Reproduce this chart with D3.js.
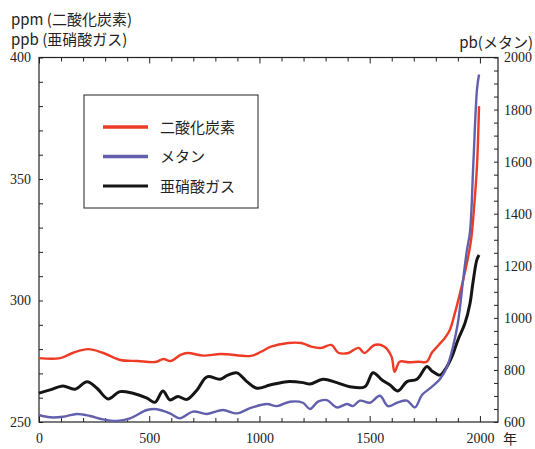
<!DOCTYPE html>
<html>
<head>
<meta charset="utf-8">
<script src="https://cdn.jsdelivr.net/npm/d3@7"></script>
<style>
  body { margin: 0; background: #fff; }
  svg text { fill: #222; }
</style>
</head>
<body>
<div id="chart"></div>
<script>
// data
const co2Years = [0, 96, 155, 223, 292, 369, 446, 528, 565, 597, 642, 674, 747, 825, 961, 1007, 1052, 1130, 1189, 1235, 1280, 1326, 1358, 1403, 1449, 1476, 1522, 1567, 1599, 1613, 1636, 1677, 1722, 1759, 1781, 1813, 1841, 1864, 1887, 1915, 1940, 1960, 1975, 1987, 1996];
const co2Values = [276.3, 276.3, 278.5, 280.0, 278.4, 275.5, 275.1, 274.7, 275.9, 275.1, 277.6, 278.4, 277.3, 278.0, 277.2, 278.9, 281.0, 282.5, 282.5, 281.0, 280.5, 281.7, 278.5, 278.4, 280.5, 278.4, 281.7, 281.0, 276.9, 270.7, 274.8, 274.6, 274.8, 274.8, 278.4, 281.7, 284.6, 288, 295, 305, 315, 325, 340, 356, 380];

const ch4Years = [0, 50, 109, 172, 231, 290, 354, 413, 490, 535, 594, 639, 698, 762, 834, 898, 957, 1034, 1079, 1138, 1197, 1229, 1265, 1306, 1351, 1397, 1424, 1456, 1501, 1546, 1583, 1624, 1669, 1705, 1737, 1773, 1819, 1850, 1878, 1900, 1923, 1941, 1955, 1970, 1987, 1996];
const ch4Values = [627, 618, 620, 631, 623, 610, 604, 614, 646, 649, 633, 614, 640, 631, 646, 633, 653, 669, 661, 678, 674, 650, 678, 684, 656, 669, 661, 682, 674, 701, 661, 674, 682, 656, 704, 729, 765, 810, 890, 980, 1140, 1260, 1330, 1590, 1880, 1935];

const n2oYears = [0, 50, 109, 163, 218, 263, 313, 367, 426, 490, 526, 562, 594, 630, 671, 717, 762, 821, 857, 898, 943, 989, 1048, 1125, 1197, 1229, 1288, 1351, 1410, 1478, 1515, 1556, 1592, 1628, 1669, 1714, 1760, 1782, 1819, 1841, 1873, 1900, 1932, 1955, 1968, 1986, 1996];
const n2oValues = [261.9, 263.2, 264.8, 263.5, 266.6, 263.9, 259.5, 262.5, 261.8, 259.8, 258.1, 262.8, 259.1, 260.5, 259.3, 263.2, 268.6, 267.6, 269.3, 270.2, 266.6, 263.9, 265.2, 266.6, 266.2, 265.6, 267.6, 266.2, 264.5, 264.5, 270.3, 267.3, 265.2, 262.8, 266.6, 267.6, 272.8, 271, 269.3, 271.4, 276.9, 283.7, 290.6, 298.8, 307.1, 316.7, 318.7];

const seriesNames = ["二酸化炭素", "メタン", "亜硝酸ガス"];
const seriesColors = ["#ee3b26", "#6260ad", "#151515"];

const yearTicks = [0, 500, 1000, 1500, 2000];
const leftTicks = [250, 300, 350, 400];
const rightTicks = [600, 800, 1000, 1200, 1400, 1600, 1800, 2000];

const margin = { top: 57.5, right: 37, bottom: 27, left: 39 },
    width = 535 - margin.left - margin.right,
    height = 449 - margin.top - margin.bottom;

const svg = d3.select("#chart")
  .append("svg")
    .attr("width", 535)
    .attr("height", 449)
  .append("g")
    .attr("transform", `translate(${margin.left},${margin.top})`);

const x = d3.scaleLinear().domain([0, 2082]).range([0, width]);
const yL = d3.scaleLinear().domain([250, 400]).range([height, 0]);
const yR = d3.scaleLinear().domain([600, 2000]).range([height, 0]);

const numFont = "Liberation Serif, Times New Roman, DejaVu Serif, serif";
const jpFont = "Noto Sans CJK JP, Noto Sans, sans-serif";

// minor ticks (inward)
function minorAxis(axis, vals, size) {
  return axis.tickValues(vals).tickSize(-size).tickFormat("");
}
const minorYears = d3.range(0, 2001, 100);
svg.append("g").attr("transform", `translate(0,${height})`)
  .call(minorAxis(d3.axisBottom(x), minorYears.filter(d => d % 500), 4));
svg.append("g").attr("transform", `translate(0,${height})`)
  .call(minorAxis(d3.axisBottom(x), yearTicks, 6));
svg.append("g")
  .call(minorAxis(d3.axisTop(x), minorYears.filter(d => d % 500), 4));
svg.append("g")
  .call(minorAxis(d3.axisTop(x), yearTicks, 6));
svg.append("g")
  .call(minorAxis(d3.axisLeft(yL), d3.range(250, 401, 10), 4));
svg.append("g").attr("transform", `translate(${width},0)`)
  .call(minorAxis(d3.axisRight(yR), d3.range(600, 2001, 50), 4));

svg.selectAll(".domain").remove();
svg.selectAll(".tick line").attr("stroke", "#222");

// frame
svg.append("rect")
  .attr("width", width).attr("height", height)
  .attr("fill", "none").attr("stroke", "#222").attr("stroke-width", 1.2);

// labels
const fmt = d3.format("d");
const xLab = svg.append("g").attr("transform", `translate(0,${height})`)
  .call(d3.axisBottom(x).tickValues(yearTicks).tickFormat(fmt).tickSize(0).tickPadding(11));
const lLab = svg.append("g")
  .call(d3.axisLeft(yL).tickValues(leftTicks).tickFormat(fmt).tickSize(0).tickPadding(8));
const rLab = svg.append("g").attr("transform", `translate(${width},0)`)
  .call(d3.axisRight(yR).tickValues(rightTicks).tickFormat(fmt).tickSize(0).tickPadding(6));
[xLab, lLab, rLab].forEach(g => {
  g.select(".domain").remove();
  g.attr("font-family", numFont).attr("font-size", 14);
  g.selectAll("text").attr("font-family", numFont).attr("font-size", 14).attr("fill", "#222");
});

svg.append("text")
  .attr("x", x(2000) + 23).attr("y", height + 22)
  .attr("font-family", jpFont).attr("font-size", 14)
  .text("年");

svg.append("text").attr("x", -28).attr("y", -33)
  .attr("font-family", jpFont).attr("font-size", 15)
  .text("ppm (二酸化炭素)");
svg.append("text").attr("x", -28).attr("y", -13)
  .attr("font-family", jpFont).attr("font-size", 15)
  .text("ppb (亜硝酸ガス)");
svg.append("text").attr("x", 533 - margin.left).attr("y", -10)
  .attr("text-anchor", "end")
  .attr("font-family", jpFont).attr("font-size", 15)
  .text("pb(メタン)");

// lines
const curve = d3.curveCatmullRom.alpha(0.5);
const lineL = d3.line().x(d => x(d[0])).y(d => yL(d[1])).curve(curve);
const lineR = d3.line().x(d => x(d[0])).y(d => yR(d[1])).curve(curve);

const co2 = co2Years.map((d, i) => [d, co2Values[i]]);
const ch4 = ch4Years.map((d, i) => [d, ch4Values[i]]);
const n2o = n2oYears.map((d, i) => [d, n2oValues[i]]);

svg.append("path").datum(n2o)
  .attr("d", lineL).attr("fill", "none")
  .attr("stroke", seriesColors[2]).attr("stroke-width", 3);
svg.append("path").datum(co2)
  .attr("d", lineL).attr("fill", "none")
  .attr("stroke", seriesColors[0]).attr("stroke-width", 2.4);
svg.append("path").datum(ch4)
  .attr("d", lineR).attr("fill", "none")
  .attr("stroke", seriesColors[1]).attr("stroke-width", 2.4);

// legend
const legend = svg.append("g").attr("transform", `translate(${84 - margin.left},${95 - margin.top})`);
legend.append("rect")
  .attr("width", 174).attr("height", 113)
  .attr("fill", "#fff").attr("stroke", "#222").attr("stroke-width", 1);
seriesNames.forEach((name, i) => {
  const yy = 32 + i * 29.5;
  legend.append("line")
    .attr("x1", 19).attr("x2", 64).attr("y1", yy).attr("y2", yy)
    .attr("stroke", seriesColors[i]).attr("stroke-width", i == 2 ? 3 : 3.5);
  legend.append("text")
    .attr("x", 76).attr("y", yy + 5.5)
    .attr("font-family", jpFont).attr("font-size", 15)
    .text(name);
});
</script>
</body>
</html>
